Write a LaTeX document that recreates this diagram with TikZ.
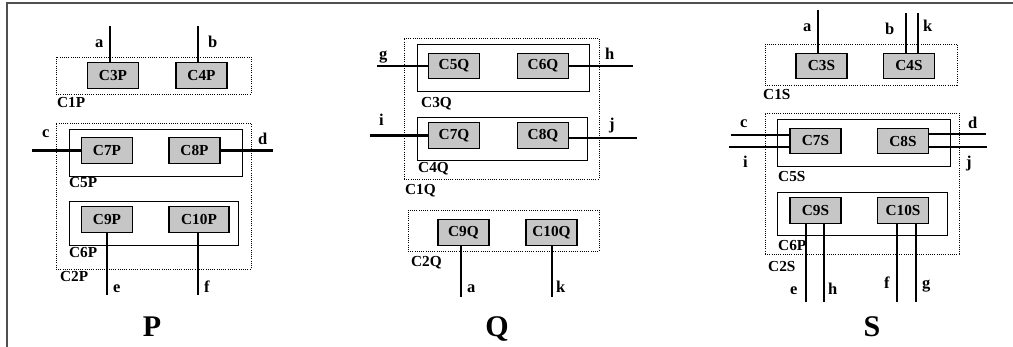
\documentclass[tikz,border=0pt]{standalone}
\usepackage{fontspec}
\setmainfont{Liberation Serif}
\usetikzlibrary{positioning,calc}
\definecolor{FrameGray}{RGB}{80,80,80}
\definecolor{CompGray}{RGB}{198,198,198}

\begin{document}
\begin{tikzpicture}[
    x=1pt,
    y=-1pt,
    comp/.style={
        draw,
        line width=1.1pt,
        fill=CompGray,
        minimum width=51,
        minimum height=25.5,
        inner sep=0,
        font=\fontsize{15.3}{17}\selectfont\bfseries
    },
    grp/.style={
        draw,
        line width=0.9pt,
        inner sep=0
    },
    cont/.style={
        draw,
        line width=0.8pt,
        dash pattern=on 1pt off 1.2pt,
        inner sep=0
    },
    cname/.style={
        anchor=base west,
        inner sep=0,
        font=\fontsize{15.3}{17}\selectfont\bfseries
    },
    port/.style={
        anchor=base west,
        inner sep=0,
        font=\fontsize{16.5}{18}\selectfont\bfseries
    },
    ttl/.style={
        anchor=base,
        inner sep=0,
        font=\fontsize{30}{32}\selectfont\bfseries
    },
    wire/.style={
        line width=2.5pt
    }
]

\useasboundingbox (0,0) rectangle (1013,347);
\draw[line width=1.5pt, FrameGray] (7,347) -- (7,3) -- (1013,3);

% P
\node[cont, minimum width=195, minimum height=37] (c1p) at (153.5,75.5) {};
\node[cont, minimum width=195, minimum height=146] (c2p) at (153.5,196) {};
\node[grp, minimum width=173, minimum height=47] (c5p) at (155.5,152.5) {};
\node[grp, minimum width=169, minimum height=44] (c6p) at (153.5,223) {};

\node[comp] (c3p) at (113,75.5) {C3P};
\node[comp] (c4p) at (201.5,75.5) {C4P};
\node[comp] (c7p) at (107,150.5) {C7P};
\node[comp] (c8p) at (194.5,150.5) {C8P};
\node[comp] (c9p) at (107,219.5) {C9P};
\node[comp, minimum width=60] (c10p) at (199,219.5) {C10P};

\coordinate (ap) at (110,26);
\coordinate (bp) at (198,26);
\coordinate (cp) at (32,150.5);
\coordinate (dp) at (273,150.5);
\coordinate (ep) at (107,295);
\coordinate (fp) at (198,295);

\draw[wire] (ap) -- (ap |- c3p.north);
\draw[wire] (bp) -- (bp |- c4p.north);
\draw[wire] (cp) -- (c7p.west);
\draw[wire] (c8p.east) -- (dp);
\draw[wire] (c9p.south) -- (ep);
\draw[wire] (fp |- c10p.south) -- (fp);

\node[port] (lap) at (95,48) {a};
\node[port] (lbp) at (208,48) {b};
\node[port] (lcp) at (42,138) {c};
\node[port] (ldp) at (258,145) {d};
\node[port] (lep) at (113,293) {e};
\node[port] (lfp) at (204,293) {f};
\node[cname] (n1p) at (57,108) {C1P};
\node[cname] (n5p) at (69,188) {C5P};
\node[cname] (n6p) at (69,258) {C6P};
\node[cname] (n2p) at (60,282) {C2P};
\node[ttl] (tp) at (152,337) {P};

% Q
\node[cont, minimum width=195, minimum height=141] (c1q) at (501.5,108.5) {};
\node[cont, minimum width=191, minimum height=41] (c2q) at (503.5,230.5) {};
\node[grp, minimum width=172, minimum height=47] (c3q) at (503,67.5) {};
\node[grp, minimum width=170, minimum height=43] (c4q) at (502,138.5) {};

\node[comp] (c5q) at (454,66) {C5Q};
\node[comp] (c6q) at (543,66) {C6Q};
\node[comp] (c7q) at (454,135.5) {C7Q};
\node[comp] (c8q) at (543,135.5) {C8Q};
\node[comp] (c9q) at (463.5,232.5) {C9Q};
\node[comp] (c10q) at (551.5,232.5) {C10Q};

\coordinate (gq) at (377,66);
\coordinate (hq) at (633,66);
\coordinate (iq) at (370,135.5);
\coordinate (jq) at (637,138);
\coordinate (aq) at (461,297);
\coordinate (kq) at (552,297);

\draw[wire] (gq) -- (c5q.west);
\draw[wire] (c6q.east) -- (hq);
\draw[wire] (iq) -- (c7q.west);
\draw[wire] (jq -| c8q.east) -- (jq);
\draw[wire] (aq |- c9q.south) -- (aq);
\draw[wire] (kq |- c10q.south) -- (kq);

\node[port] (lgq) at (379,60) {g};
\node[port] (lhq) at (605,60) {h};
\node[port] (liq) at (379,126) {i};
\node[port] (ljq) at (609,130) {j};
\node[port] (laq) at (467,293) {a};
\node[port] (lkq) at (556,293) {k};
\node[cname] (n3q) at (421,108) {C3Q};
\node[cname] (n4q) at (418,173) {C4Q};
\node[cname] (n1q) at (405,195) {C1Q};
\node[cname] (n2q) at (411,267) {C2Q};
\node[ttl] (tq) at (497,337) {Q};

% S
\node[cont, minimum width=192, minimum height=41] (c1s) at (861,64.5) {};
\node[cont, minimum width=194, minimum height=141] (c2s) at (862,183.5) {};
\node[grp, minimum width=173, minimum height=47] (c5s) at (863.5,142.5) {};
\node[grp, minimum width=170, minimum height=43] (c6s) at (862,213.5) {};

\node[comp] (c3s) at (821.5,66) {C3S};
\node[comp] (c4s) at (909,66) {C4S};
\node[comp] (c7s) at (815.5,141) {C7S};
\node[comp] (c8s) at (903,141) {C8S};
\node[comp] (c9s) at (815.5,210.5) {C9S};
\node[comp] (c10s) at (903,210.5) {C10S};

\coordinate (as) at (818,10);
\coordinate (bs) at (906,13);
\coordinate (ks) at (918,13);
\coordinate (cs) at (731,135);
\coordinate (is) at (729,147);
\coordinate (ds) at (986,134);
\coordinate (js) at (987,147);
\coordinate (es) at (806,302);
\coordinate (hs) at (824,302);
\coordinate (fs) at (897,302);
\coordinate (gs) at (916,302);

\draw[wire] (as) -- (as |- c3s.north);
\draw[wire] (bs) -- (bs |- c4s.north);
\draw[wire] (ks) -- (ks |- c4s.north);
\draw[wire] (cs) -- (cs -| c7s.west);
\draw[wire] (is) -- (is -| c7s.west);
\draw[wire] (ds -| c8s.east) -- (ds);
\draw[wire] (js -| c8s.east) -- (js);
\draw[wire] (es |- c9s.south) -- (es);
\draw[wire] (hs |- c9s.south) -- (hs);
\draw[wire] (fs |- c10s.south) -- (fs);
\draw[wire] (gs |- c10s.south) -- (gs);

\node[port] (las) at (803,32) {a};
\node[port] (lbs) at (885,35) {b};
\node[port] (lks) at (923,32) {k};
\node[port] (lcs) at (740,128) {c};
\node[port] (lis) at (743,168) {i};
\node[port] (lds) at (968,129) {d};
\node[port] (ljs) at (966,168) {j};
\node[port] (les) at (790,295) {e};
\node[port] (lhs) at (828,295) {h};
\node[port] (lfs) at (884,289) {f};
\node[port] (lgs) at (922,289) {g};
\node[cname] (n1s) at (763,100) {C1S};
\node[cname] (n5s) at (778,182) {C5S};
\node[cname] (n6s) at (778,251) {C6P};
\node[cname] (n2s) at (768,272) {C2S};
\node[ttl] (ts) at (872,337) {S};

\end{tikzpicture}
\end{document}
